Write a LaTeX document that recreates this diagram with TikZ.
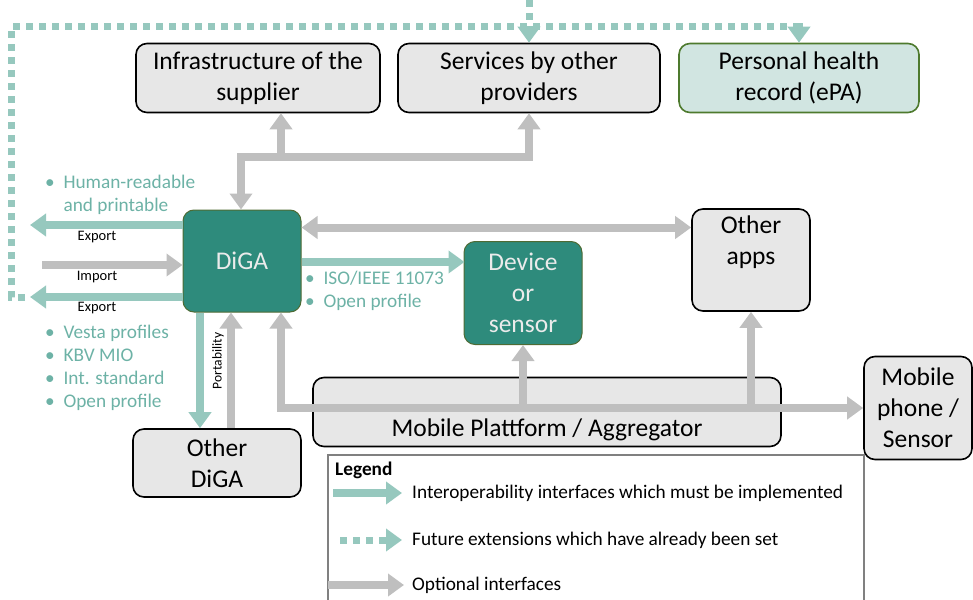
\documentclass[tikz,border=0pt]{standalone}
\usepackage{fontspec}
\setmainfont{Carlito}
\usetikzlibrary{arrows.meta}

\definecolor{digateal}{HTML}{2E8B7C}
\definecolor{digaedge}{HTML}{4E6B34}
\definecolor{reqteal}{HTML}{96C8BE}
\definecolor{bultext}{HTML}{6DB2A6}
\definecolor{optgray}{HTML}{BFBFBF}
\definecolor{boxgray}{HTML}{E7E7E7}
\definecolor{epafill}{HTML}{D1E5E1}
\definecolor{epaedge}{HTML}{4E7A2E}

\newcommand{\boxfont}{\fontsize{25.5}{31}\selectfont}
\newcommand{\bulfont}{\fontsize{19.3}{23}\selectfont}
\newcommand{\legfont}{\fontsize{19.3}{23}\selectfont}
\newcommand{\tagfont}{\fontsize{14.5}{16}\selectfont}

\begin{document}
\begin{tikzpicture}[x=1pt, y=-1pt, >={Triangle[length=16pt,width=22pt]}]
        \tikzstyle{every node} = [inner sep=0pt]
        \tikzstyle{box} = [draw=black, line width=1.6pt, rounded corners=11pt, fill=boxgray, align=center, font=\boxfont]
        \tikzstyle{tealbox} = [box, draw=digaedge, line width=1pt, fill=digateal, text=white!92!black]
        \tikzstyle{opt} = [draw=optgray, line width=8pt]
        \tikzstyle{req} = [draw=reqteal, line width=8pt]
        \tikzstyle{fut} = [draw=reqteal, line width=7pt, dash pattern=on 7pt off 6pt]
        \tikzstyle{bul} = [text=bultext, align=left, font=\bulfont, anchor=west]
        \tikzstyle{tag} = [font=\tagfont]
        \useasboundingbox (0,0) rectangle (973,599);

        % boxes
        \node[box, minimum width=244pt, minimum height=69pt] (infra) at (258,78) {Infrastructure of the\\supplier};
        \node[box, minimum width=262pt, minimum height=69pt] (serv) at (529,78) {Services by other\\providers};
        \node[box, draw=epaedge, fill=epafill, minimum width=240pt, minimum height=69pt] (epa) at (799,78) {Personal health\\record (ePA)};
        \node[tealbox, minimum width=118pt, minimum height=102pt] (diga) at (242,261) {DiGA};
        \node[tealbox, minimum width=118pt, minimum height=103pt] (device) at (523,293) {Device\\or\\sensor};
        \node[box, minimum width=118pt, minimum height=102pt] (apps) at (751,260) {Other\\apps\\\strut};
        \node[box, minimum width=468pt, minimum height=69pt] (plat) at (547,412) {\strut\\Mobile Plattform / Aggregator};
        \node[box, minimum width=108pt, minimum height=103pt] (phone) at (918,408) {Mobile\\phone /\\Sensor};
        \node[box, minimum width=168pt, minimum height=68pt] (other) at (217,463) {Other\\DiGA};

        % future extensions
        \draw[fut,->] (25,297) -| (11,27) -| (epa.north);
        \coordinate (fs) at (529,0);
        \draw[fut,->] (fs) -- (serv.north);

        % supplier and providers
        \coordinate (tl) at (241,157);
        \coordinate (ti) at (281,157);
        \draw[opt,->] (ti) -| (serv.south);
        \draw[opt,->] (ti) -- (ti |- infra.south);
        \draw[opt,->] (ti) -| (tl |- diga.north);
        \draw[opt,<->] ([yshift=-18pt]diga.north east) -- ([yshift=-18pt]diga.north east -| apps.west);

        % export and import
        \coordinate (expa) at (30,225);
        \coordinate (imp) at (42,265);
        \coordinate (expb) at (30,297);
        \draw[req,->] (expa -| diga.west) -- (expa);
        \draw[opt,->] (imp) -- (imp -| diga.west);
        \draw[req,->] (expb -| diga.west) -- (expb);
        \node[tag] (tea) at (97,237) {Export};
        \node[tag] (tim) at (97,277) {Import};
        \node[tag] (teb) at (97,308) {Export};
        \node[bul] (hr) at (45,195) {\textbullet\ \ Human-readable\\\hphantom{\textbullet\ \ }and printable};
        \node[bul] (fmt) at (45,368) {\textbullet\ \ Vesta profiles\\\textbullet\ \ KBV MIO\\\textbullet\ \ Int. standard\\\textbullet\ \ Open profile};

        % device
        \draw[req,->] (diga.east |- device.north) ++(0,21) -- +(163,0);
        \node[bul] (iso) at (305,291) {\textbullet\ \ ISO/IEEE 11073\\\textbullet\ \ Open profile};

        % portability
        \coordinate (pa) at (200,0);
        \coordinate (pb) at (231,0);
        \draw[req,->] (diga.south -| pa) -- (other.north -| pa);
        \draw[opt,->] (other.north -| pb) -- (diga.south -| pb);
        \node[tag, font=\fontsize{13.5}{15}\selectfont, rotate=90] (port) at (218,361) {Portability};

        % mobile platform
        \coordinate (mp) at (281,408);
        \draw[opt,<->] (diga.south -| mp) |- (phone.west);
        \foreach \to in {device, apps}
            \draw[opt,->] (\to.south |- mp) -- (\to.south);

        % legend
        \draw[draw=gray, line width=1.2pt] (328,610) |- (864,455) -- (864,610);
        \node[font=\legfont\bfseries, anchor=west] (leg) at (335,470) {Legend};
        \draw[req,->] (333,493) -- (402,493);
        \draw[fut,->] (340,540) -- (402,540);
        \draw[opt,->] (328,585) -- (404,585);
        \node[font=\legfont, anchor=west] (l1) at (412,493) {Interoperability interfaces which must be implemented};
        \node[font=\legfont, anchor=west] (l2) at (412,540) {Future extensions which have already been set};
        \node[font=\legfont, anchor=west] (l3) at (412,585) {Optional interfaces};
\end{tikzpicture}
\end{document}
